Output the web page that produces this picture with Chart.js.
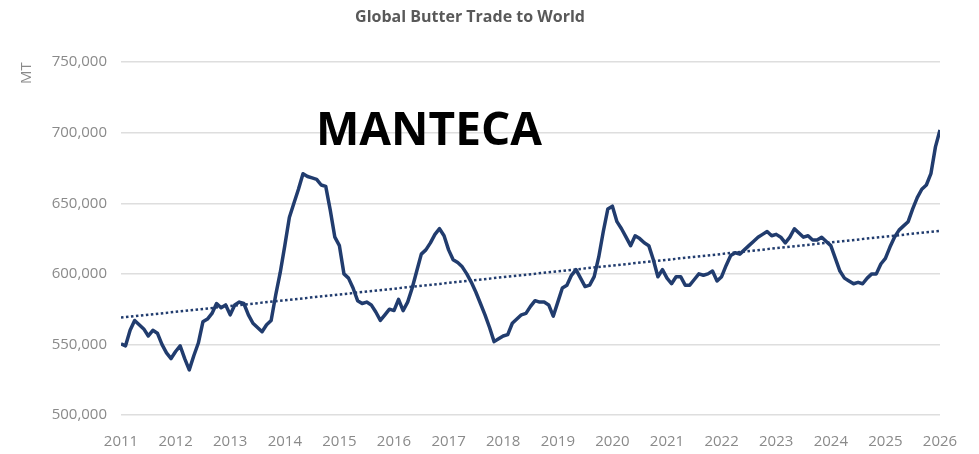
<!DOCTYPE html>
<html>
<head>
<meta charset="utf-8">
<script src="https://cdn.jsdelivr.net/npm/chart.js@4/dist/chart.umd.min.js"></script>
<style>
	html, body { margin: 0; padding: 0; background: #fff; }
	#wrap { position: relative; width: 979px; height: 454px; }
	#stamp {
		position: absolute; left: 316px; top: 104px;
		font: bold 46px "Open Sans", sans-serif; color: #000; line-height: 1;
	}
</style>
</head>
<body>
<div id="wrap">
	<canvas id="butter" width="979" height="454"></canvas>
	<div id="stamp">MANTECA</div>
</div>
<script>
// year ticks on the x axis
const years = [ 2011, 2012, 2013, 2014, 2015, 2016, 2017, 2018, 2019, 2020, 2021, 2022, 2023, 2024, 2025, 2026 ];

// monthly butter trade, thousand MT, Jan 2011 .. Jan 2026
const tradeK = [
	550.5, 549, 560, 567, 564, 561, 556, 560, 558, 550, 544, 540,
	545, 549, 540, 532, 542, 551, 566, 568, 572, 579, 576, 578,
	571, 578, 580, 579, 571, 565, 562, 559, 564, 567, 585, 601,
	620, 640, 650, 660, 671, 669, 668, 667, 663, 662, 645, 626,
	620, 600, 597, 590, 581, 579, 580, 578, 573, 567, 571, 575,
	574, 582, 574, 580, 590, 602, 614, 617, 622, 628, 632, 627,
	617, 610, 608, 605, 600, 594, 587, 579, 571, 562, 552, 554,
	556, 557, 565, 568, 571, 572, 577, 581, 580, 580, 578, 570,
	580, 590, 592, 599, 603, 597, 591, 592, 598, 612, 630, 646,
	648, 637, 632, 626, 620, 627, 625, 622, 620, 610, 598, 603,
	597, 593, 598, 598, 592, 592, 596, 600, 599, 600, 602, 595,
	598, 606, 613, 615, 614, 617, 620, 623, 626, 628, 630, 627,
	628, 626, 622, 626, 632, 629, 626, 627, 624, 624, 626, 623,
	620, 611, 602, 597, 595, 593, 594, 593, 597, 600, 600, 607,
	611, 619, 626, 631, 634, 637, 646, 654, 660, 663, 671, 690,
	702
];

// dotted linear trend, start and end values
const trendStart = 569000;
const trendEnd = 630500;

const navy = '#213c6e';
const lineData = tradeK.map( ( v, i ) => ( { x: i, y: v * 1000 } ) );
const lastIndex = tradeK.length - 1;

new Chart( document.getElementById( 'butter' ), {
	type: 'line',
	data: {
		datasets: [ {
			data: lineData,
			borderColor: navy,
			borderWidth: 3.5,
			pointRadius: 0,
			tension: 0,
			borderJoinStyle: 'round'
		}, {
			data: [ { x: 0, y: trendStart }, { x: lastIndex, y: trendEnd } ],
			borderColor: navy,
			borderWidth: 2.5,
			borderDash: [ 2.5, 2.5 ],
			pointRadius: 0
		} ]
	},
	options: {
		responsive: false,
		animation: false,
		layout: { padding: { left: 0, right: 39, top: 0, bottom: 0 } },
		plugins: {
			legend: { display: false },
			tooltip: { enabled: false },
			title: {
				display: true,
				text: 'Global Butter Trade to World',
				color: '#595959',
				font: { family: 'Open Sans', size: 16, weight: 'bold' },
				padding: { top: 8, bottom: 35 }
			}
		},
		scales: {
			x: {
				type: 'linear',
				min: 0,
				max: ( years.length - 1 ) * 12,
				grid: { display: false },
				border: { display: false },
				ticks: {
					stepSize: 12,
					autoSkip: false,
					maxRotation: 0,
					padding: 10,
					color: '#8a8a8a',
					font: { family: 'Open Sans', size: 15 },
					callback: ( v ) => years[ v / 12 ]
				},
				afterFit: ( s ) => { s.height = 39; }
			},
			y: {
				min: 500000,
				max: 750000,
				grid: { color: '#dedede', lineWidth: 1.5, drawTicks: false },
				border: { display: false },
				ticks: {
					stepSize: 50000,
					padding: 14,
					color: '#8a8a8a',
					font: { family: 'Open Sans', size: 15 },
					callback: ( v ) => v.toLocaleString( 'en-US' )
				},
				title: {
					display: true,
					text: 'MT',
					align: 'end',
					color: '#8a8a8a',
					padding: { top: 18, bottom: 0 },
					font: { family: 'Open Sans', size: 15 }
				},
				afterFit: ( s ) => { s.width = 121; }
			}
		}
	}
} );
</script>
</body>
</html>
